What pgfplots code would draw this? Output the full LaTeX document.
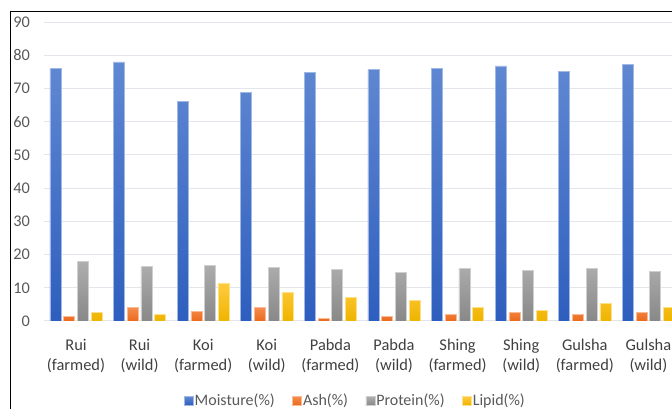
\documentclass[border=0pt]{standalone}
\usepackage{pgfplots}
\pgfplotsset{compat=1.18}
\usepackage{fontspec}
\setmainfont{Carlito}
\definecolor{mtop}{HTML}{6088D2}
\definecolor{mbot}{HTML}{2E5EBE}
\definecolor{atop}{HTML}{F58C4E}
\definecolor{abot}{HTML}{EC6A1C}
\definecolor{ptop}{HTML}{AFAFAF}
\definecolor{pbot}{HTML}{888888}
\definecolor{ltop}{HTML}{FFCB3C}
\definecolor{lbot}{HTML}{EEB400}
\definecolor{gridc}{HTML}{E3E5EA}
\definecolor{tickc}{HTML}{595959}
\definecolor{catc}{HTML}{404040}
\begin{document}
\begin{tikzpicture}[x=1pt,y=1pt]
\useasboundingbox (0,0) rectangle (672,409);
\begin{scope}
\clip (0,0) rectangle (672,409);
\begin{axis}[
  at={(44.2pt,88pt)}, anchor=south west,
  scale only axis, width=636pt, height=299pt,
  xmin=-0.5, xmax=9.5, ymin=0, ymax=90,
  ybar=2.7pt, bar width=11pt,
  axis line style={draw=none},
  major tick length=0pt,
  ytick={0,10,...,90},
  ymajorgrids, grid style={color=gridc, line width=1pt},
  /pgf/number format/assume math mode=true,
  yticklabel style={font=\fontsize{16.3}{20}\selectfont, text=tickc, inner sep=0pt, xshift=-14pt},
  xtick={0,...,9},
  xticklabels={{\strut Rui\\(farmed)},{\strut Rui\\(wild)},{\strut Koi\\(farmed)},{\strut Koi\\(wild)},{\strut Pabda\\(farmed)},{\strut Pabda\\(wild)},{\strut Shing\\(farmed)},{\strut Shing\\(wild)},{\strut Gulsha\\(farmed)},{\strut Gulsha\\(wild)}},
  xticklabel style={font=\fontsize{16.4}{20}\selectfont, text=catc, align=center, inner sep=0pt, anchor=north, yshift=-15.5pt},
  legend columns=4,
  legend style={at={(0.2195,-0.2666)}, anchor=west, draw=none, fill=none,
    font=\fontsize{16}{18}\selectfont, text=tickc, inner sep=0pt,
    nodes={inner sep=1pt},
    /tikz/every even column/.append style={column sep=16.5pt}},
  legend image code/.code={\fill[#1] (0pt,-4.3pt) rectangle (9pt,4.3pt);},
]
\addplot[top color=mtop, bottom color=mbot, draw=mtop!60!white, line width=0.7pt] coordinates {
(0,76.0) (1,78.0) (2,66.1) (3,68.7) (4,74.9) (5,75.7) (6,76.0) (7,76.8) (8,75.0) (9,77.2)};
\addplot[top color=atop, bottom color=abot, draw=atop!60!white, line width=0.7pt] coordinates {
(0,1.3) (1,4.1) (2,3.0) (3,4.1) (4,0.8) (5,1.4) (6,1.9) (7,2.5) (8,1.9) (9,2.5)};
\addplot[top color=ptop, bottom color=pbot, draw=ptop!60!white, line width=0.7pt] coordinates {
(0,18.0) (1,16.3) (2,16.6) (3,16.0) (4,15.4) (5,14.6) (6,15.7) (7,15.2) (8,15.7) (9,14.9)};
\addplot[top color=ltop, bottom color=lbot, draw=ltop!60!white, line width=0.7pt] coordinates {
(0,2.7) (1,2.1) (2,11.2) (3,8.7) (4,7.0) (5,6.1) (6,4.2) (7,3.3) (8,5.4) (9,4.2)};
\legend{Moisture(\%), Ash(\%), Protein(\%), Lipid(\%)}
\end{axis}
\end{scope}
\draw[black, line width=1pt] (10.3,0) -- (10.3,397) -- (672,397);
\end{tikzpicture}
\end{document}
